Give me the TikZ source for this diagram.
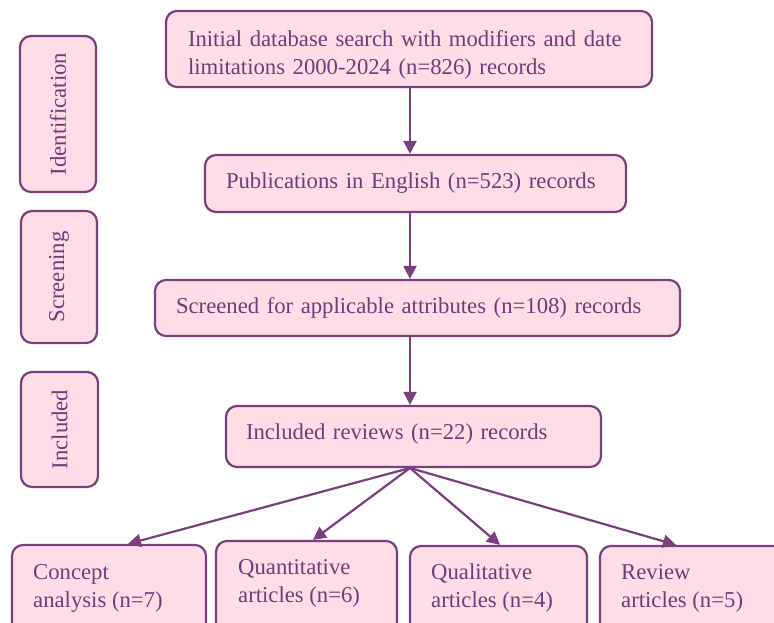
\documentclass[tikz,border=0pt]{standalone}
\usepackage{fontspec}
\setmainfont{Liberation Serif}
\usetikzlibrary{arrows.meta,calc}
\definecolor{edgec}{HTML}{7A3F7E}
\definecolor{pinkfill}{HTML}{FFDDE6}
\definecolor{txtc}{HTML}{713B76}
\begin{document}
\begin{tikzpicture}[x=1pt,y=-1pt,
  box/.style={draw=edgec, fill=pinkfill, line width=2.2pt, rounded corners=11pt,
    text=txtc, font=\fontsize{22.7}{27.5}\selectfont, align=left, inner ysep=0pt},
  txt/.style={text=txtc, font=\fontsize{22.7}{27.5}\selectfont, align=left, inner sep=0pt},
  arr/.style={draw=edgec, line width=2.2pt, -{Triangle[length=13pt,width=13pt]}}]
\useasboundingbox (0,0) rectangle (774,622);
\clip (0,0) rectangle (774,622);
% main chain
\node[box, minimum width=486pt, minimum height=76pt, text width=460pt, inner xsep=13pt, text depth=20pt] (top) at (409,49)
  {\hspace*{9pt}Initial database search with modifiers and date\\\hspace*{9pt}limitations 2000-2024 (n=826) records};
\node[box, minimum width=421pt, minimum height=57pt, text width=399pt, inner xsep=11pt] (eng) at (415.5,183.5)
  {\hspace*{10pt}Publications in English (n=523) records};
\node[box, minimum width=525pt, minimum height=56pt, text width=503pt, inner xsep=11pt] (scr) at (417.5,308)
  {\hspace*{10pt}Screened for applicable attributes (n=108) records};
\node[box, minimum width=375pt, minimum height=61pt, text width=355pt, inner xsep=10pt, text depth=9pt] (inc) at (413.5,436.5)
  {\hspace*{10pt}Included reviews (n=22) records};
% side labels
\node[box, rotate=90, align=center, minimum width=156pt, minimum height=76pt, inner xsep=0pt] (sid) at (58,114) {Identification};
\node[box, rotate=90, align=center, minimum width=132pt, minimum height=76pt, inner xsep=0pt] (sscr) at (59,277) {Screening};
\node[box, rotate=90, align=center, minimum width=115pt, minimum height=77pt, inner xsep=0pt] (sinc) at (59.5,429.5) {Included};
% bottom boxes
\node[box, minimum width=194pt, minimum height=100pt] (c1) at (109,595) {};
\node[box, minimum width=181pt, minimum height=100pt] (c2) at (306.5,591) {};
\node[box, minimum width=177pt, minimum height=100pt] (c3) at (498.5,596) {};
\node[box, minimum width=200pt, minimum height=100pt] (c4) at (700,596) {};
\node[txt, anchor=base west] (t1) at (33,607) {Concept\\analysis (n=7)};
\node[txt, anchor=base west] (t2) at (238,602) {Quantitative\\articles (n=6)};
\node[txt, anchor=base west] (t3) at (431,607) {Qualitative\\articles (n=4)};
\node[txt, anchor=base west] (t4) at (621,607) {Review\\articles (n=5)};
% connectors
\coordinate (ax) at (410,0);
\coordinate (fan) at (410,468);
\draw[arr] (top.south -| ax) -- (eng.north -| ax);
\draw[arr] (eng.south -| ax) -- (scr.north -| ax);
\draw[arr] (scr.south -| ax) -- (inc.north -| ax);
\draw[arr] (fan) -- (c1.north -| 128,0);
\draw[arr] (fan) -- (c2.north -| 313,0);
\draw[arr] (fan) -- (c3.north -| 500,0);
\draw[arr] (fan) -- (c4.north -| 676,0);
\end{tikzpicture}
\end{document}
